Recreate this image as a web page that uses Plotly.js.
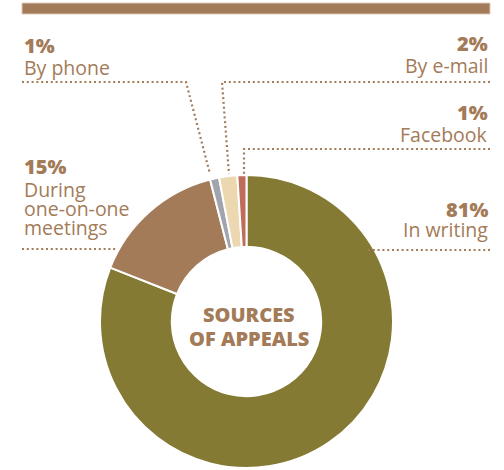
<!DOCTYPE html>
<html>
<head>
<meta charset="utf-8">
<script src="https://cdn.plot.ly/plotly-3.0.1.min.js"></script>
<style>html,body{margin:0;padding:0;background:#fff;}#chart{width:504px;height:470px;}</style>
</head>
<body>
<div id="chart"></div>
<script>
// ---- data ----
const categories = ["In writing", "During one-on-one meetings", "By phone", "By e-mail", "Facebook"];
const values = [81, 15, 1, 2, 1];
const sliceColors = ["#857a34", "#a37b58", "#a2a4ad", "#ecd8b0", "#c06c5a"];
const labelLines = [["In writing"], ["During", "one-on-one", "meetings"], ["By phone"], ["By e-mail"], ["Facebook"]];
const centerLines = ["SOURCES", "OF APPEALS"];

// ---- layout helpers ----
const W = 504, H = 470;
const px = x => x / W;
const py = y => 1 - y / H;
const brown = "#a37b58";
const FONT = "Open Sans";

// label placement (pixel positions): side, percent y, first line y, line step
const labelPos = [
  {side: "right", pctY: 209, lineY: 230, step: 19},
  {side: "left",  pctY: 166.5, lineY: 189.5, step: 19.2},
  {side: "left",  pctY: 45.5, lineY: 67.5, step: 19},
  {side: "right", pctY: 43.5, lineY: 65, step: 19},
  {side: "right", pctY: 113, lineY: 134, step: 19}
];
const leaders = [
  [[490, 250], [367, 250]],
  [[22, 249], [116, 249]],
  [[22, 82], [186, 82], [210, 174]],
  [[490, 82], [222, 82], [229, 174]],
  [[490, 149], [244, 149], [244, 174]]
];

const annotations = [];
categories.forEach((c, i) => {
  const p = labelPos[i];
  const x = p.side === "left" ? px(22) : px(490);
  const xa = p.side === "left" ? "left" : "right";
  annotations.push({
    xref: "paper", yref: "paper", x: x, y: py(p.pctY), xanchor: xa, yanchor: "middle",
    text: values[i] + "%", showarrow: false,
    font: {family: FONT, size: 20, color: brown, weight: 800}
  });
  labelLines[i].forEach((t, j) => {
    annotations.push({
      xref: "paper", yref: "paper", x: x, y: py(p.lineY + j * p.step), xanchor: xa, yanchor: "middle",
      text: t, showarrow: false,
      font: {family: FONT, size: 19.5, color: brown, weight: 400}
    });
  });
});
centerLines.forEach((t, j) => {
  annotations.push({
    xref: "paper", yref: "paper", x: px(249), y: py(314 + j * 24.5), xanchor: "center", yanchor: "middle",
    text: t, showarrow: false,
    font: {family: FONT, size: 20, color: brown, weight: 800}
  });
});

const shapes = [{
  type: "rect", xref: "paper", yref: "paper",
  x0: px(22), x1: px(490), y0: py(14), y1: py(3),
  fillcolor: brown, line: {color: "#dcc9b6", width: 1}
}];
leaders.forEach(pts => {
  const d = pts.map((p, k) => (k === 0 ? "M" : "L") + px(p[0]) + "," + py(p[1])).join(" ");
  shapes.push({
    type: "path", xref: "paper", yref: "paper", path: d,
    line: {color: brown, width: 2.2, dash: "2px,2.8px"}
  });
});

const cx = 246.5, cy = 321.5, r = 146.5;
const trace = {
  type: "pie",
  labels: categories,
  values: values,
  marker: {colors: sliceColors, line: {color: "#ffffff", width: 2}},
  hole: 0.51,
  sort: false,
  direction: "clockwise",
  rotation: 0,
  textinfo: "none",
  hoverinfo: "label+percent",
  domain: {x: [px(cx - r), px(cx + r)], y: [py(cy + r), py(cy - r)]}
};

Plotly.newPlot("chart", [trace], {
  width: W, height: H,
  margin: {l: 0, r: 0, t: 0, b: 0},
  paper_bgcolor: "#ffffff",
  showlegend: false,
  annotations: annotations,
  shapes: shapes
}, {displayModeBar: false, staticPlot: true});
</script>
</body>
</html>
